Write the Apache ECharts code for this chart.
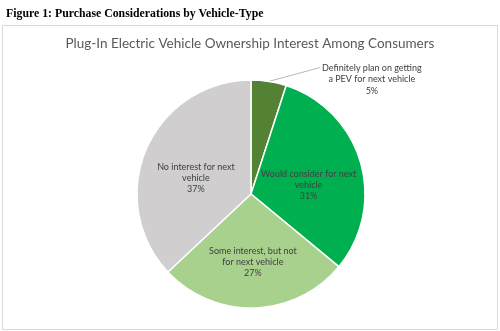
<!DOCTYPE html>
<html>
<head>
<meta charset="utf-8">
<script src="https://cdn.jsdelivr.net/npm/echarts@6/dist/echarts.min.js"></script>
<style>
html,body{margin:0;padding:0;background:#fff;}
#chart{width:500px;height:331px;}
</style>
</head>
<body>
<div id="chart"></div>
<script>
const figureTitle = "Figure 1: Purchase Considerations by Vehicle-Type";
const chartTitle = "Plug-In Electric Vehicle Ownership Interest Among Consumers";
const categories = [
  "Definitely plan on getting\na PEV for next vehicle",
  "Would consider for next\nvehicle",
  "Some interest, but not\nfor next vehicle",
  "No interest for next\nvehicle"
];
const values = [5, 31, 27, 37];
const colors = ["#548235", "#00B050", "#A9D18E", "#D0CECE"];

const chart = echarts.init(document.getElementById('chart'), null, {renderer: 'canvas'});
const data = categories.map((c, i) => ({
  name: c,
  value: values[i],
  itemStyle: {color: colors[i]},
  label: i === 0 ? {position: 'outside'} : {position: 'inside'},
  labelLine: {show: i === 0}
}));

chart.setOption({
  animation: false,
  backgroundColor: '#fff',
  graphic: [{
    type: 'rect',
    shape: {x: 2.5, y: 25.5, width: 495, height: 304},
    style: {fill: 'none', stroke: '#d9d9d9', lineWidth: 1},
    silent: true
  }],
  title: [{
    text: figureTitle,
    left: 1, top: 3,
    textStyle: {fontFamily: 'Liberation Serif', fontWeight: 'bold', fontSize: 11.8, color: '#000'}
  }, {
    text: chartTitle,
    left: 'center', top: 32,
    textStyle: {fontFamily: 'Lato', fontWeight: 'normal', fontSize: 13.5, color: '#595959'}
  }],
  series: [{
    type: 'pie',
    center: [251, 194],
    radius: 114,
    startAngle: 90,
    clockwise: true,
    itemStyle: {borderColor: '#fff', borderWidth: 1.5},
    label: {
      show: true,
      formatter: p => p.name + '\n' + p.value + '%',
      fontFamily: 'Lato',
      fontSize: 9,
      lineHeight: 11.3,
      color: '#404040',
      align: 'center'
    },
    labelLine: {length: 14, length2: 49, lineStyle: {color: '#a6a6a6', width: 0.8}, smooth: false},
    labelLayout: function (params) {
      if (params.dataIndex !== 0) {
        return {dy: 8};
      }
      const p = params.labelLinePoints;
      const r = params.labelRect;
      if (!p) return {};
      const end = p[p.length - 1];
      return {
        x: end[0] + 2 + r.width / 2,
        y: end[1] + r.height / 2 - 5,
        align: 'center',
        verticalAlign: 'middle',
        labelLinePoints: [p[0], end, end]
      };
    },
    data: data
  }]
});
</script>
</body>
</html>
